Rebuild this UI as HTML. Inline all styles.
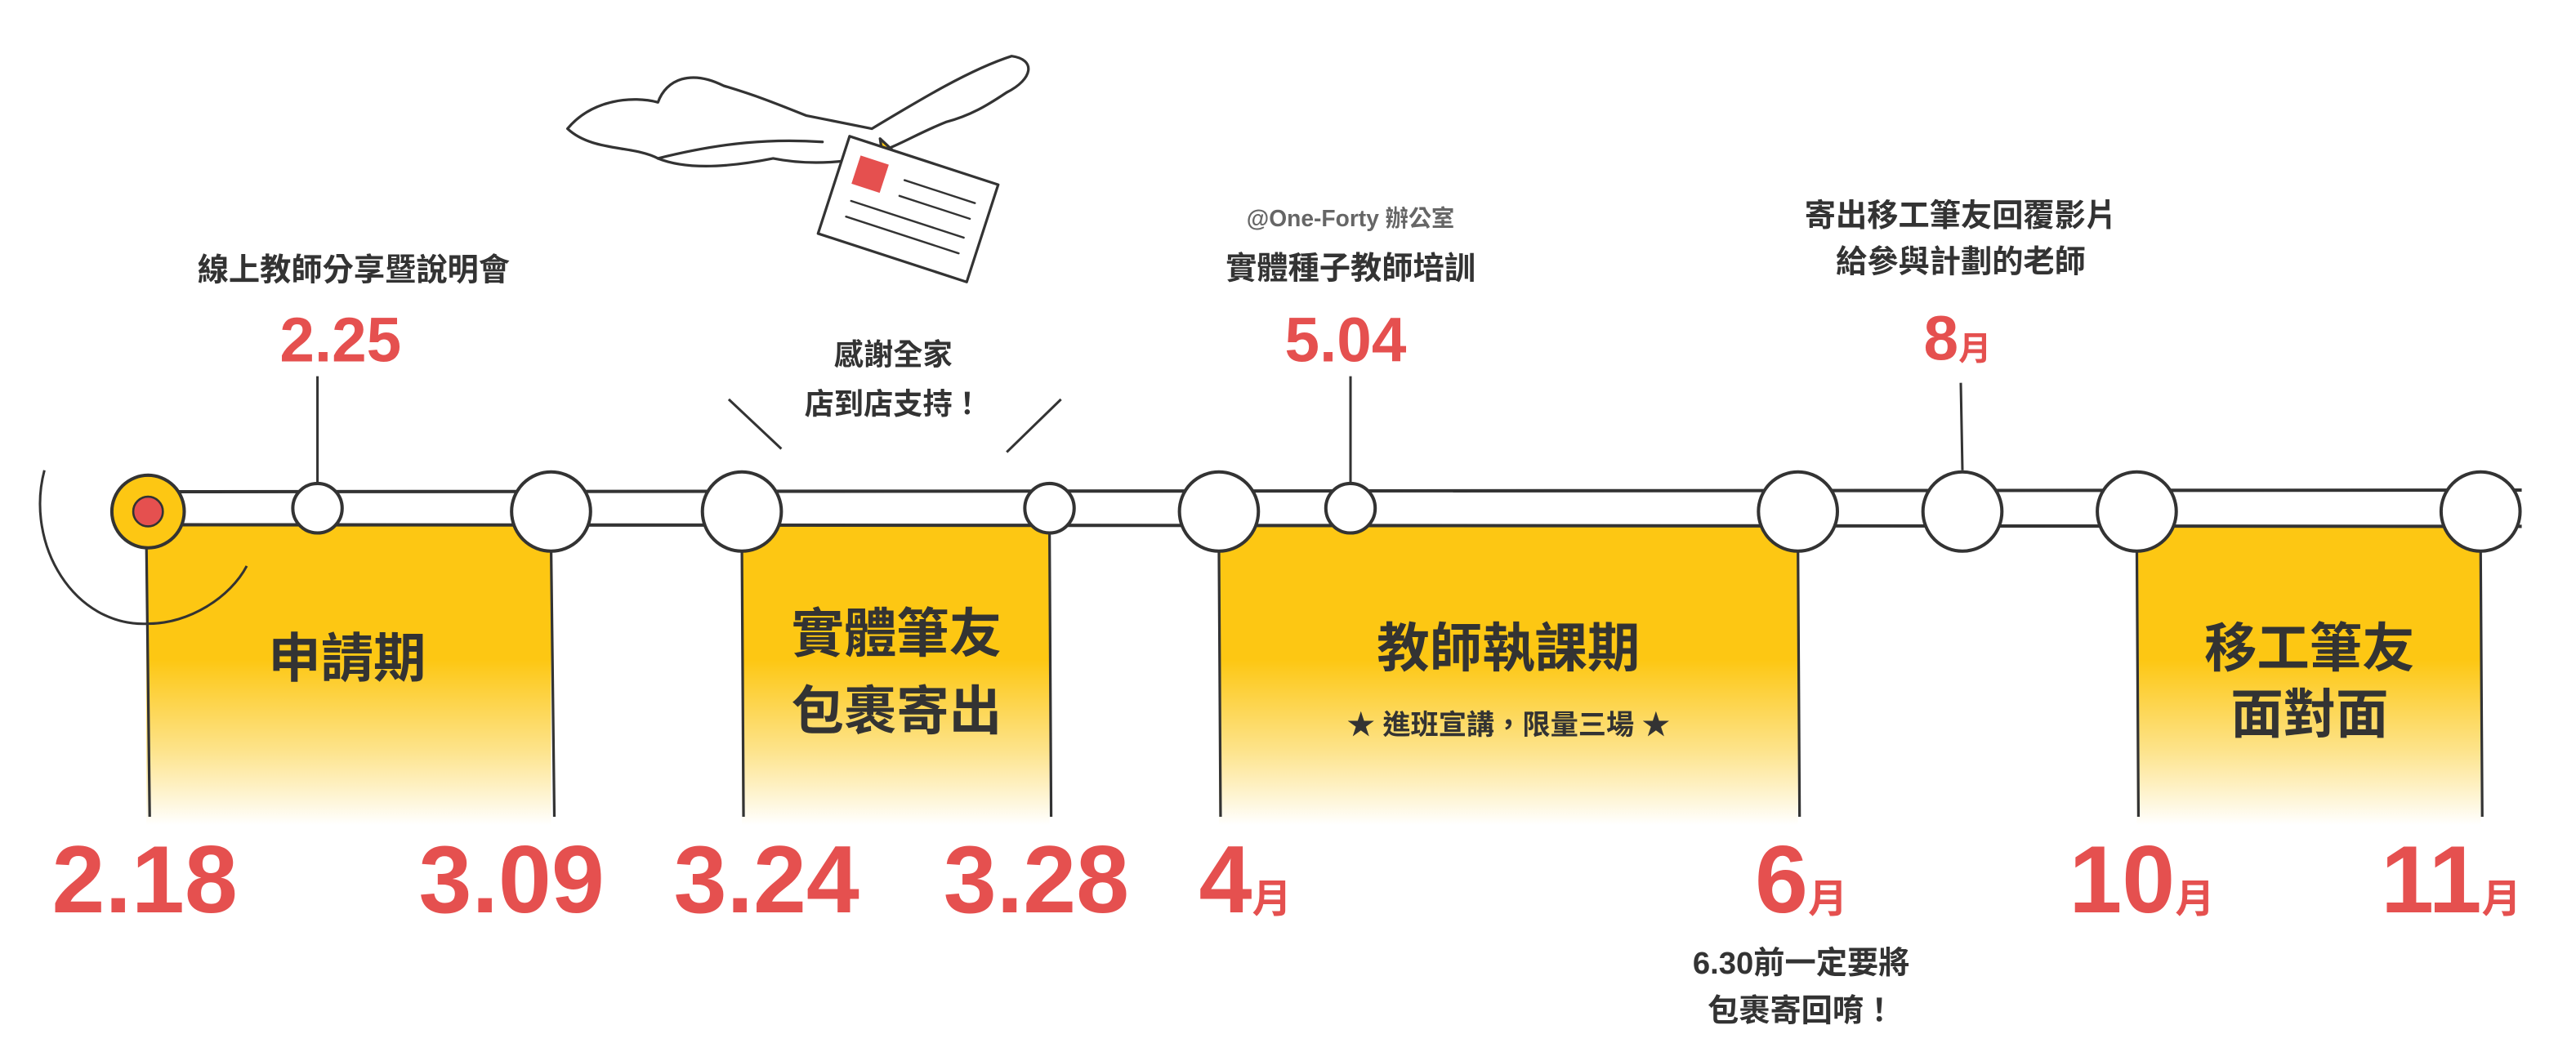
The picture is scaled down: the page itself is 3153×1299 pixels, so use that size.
<!DOCTYPE html>
<html><head><meta charset="utf-8"><style>
html,body{margin:0;padding:0;background:#fff;}
svg{display:block;}
text{font-family:"Liberation Sans Narrow","Liberation Sans","Noto Sans CJK TC",sans-serif;font-weight:bold;}
.cjk{font-family:"Liberation Sans","Noto Sans CJK TC",sans-serif;font-weight:bold;}
</style></head><body>
<svg width="3153" height="1299" viewBox="0 0 1566 643" preserveAspectRatio="none" xmlns="http://www.w3.org/2000/svg">
<defs>
<linearGradient id="yg" x1="0" y1="0" x2="0" y2="1">
<stop offset="0" stop-color="#fdc713"/>
<stop offset="0.45" stop-color="#fdc713"/>
<stop offset="0.75" stop-color="#fde38a"/>
<stop offset="1" stop-color="#ffffff"/>
</linearGradient>
</defs>
<rect x="0" y="0" width="1566" height="643" fill="#fff"/>

<!-- bird -->
<g fill="#fff" stroke="#333" stroke-width="1.6" stroke-linecap="round" stroke-linejoin="round">
<path d="M345,78 C360,60 385,58 400,62 C405,48 420,42 440,52 C460,58 470,62 490,70 L530,78 C560,60 590,42 615,34 C630,36 628,48 612,56 C600,64 590,70 575,74 C560,80 550,86 540,90 C520,100 490,100 470,96 C450,100 420,104 400,96 C385,88 360,92 345,78 Z"/>
<path d="M400,96 C440,86 470,84 500,86" fill="none"/>
<path d="M535,84 L550,98 L538,104 Z" fill="#fdc713"/>
<g transform="rotate(18 550 125)">
<rect x="505" y="95" width="95" height="62" fill="#fff"/>
<rect x="515" y="104" width="18" height="18" fill="#e5504f" stroke="none"/>
<path d="M545,110 L590,110 M545,120 L590,120 M518,132 L590,132 M518,142 L590,142" fill="none" stroke-width="1.2"/>
</g>
</g>

<!-- yellow panels -->
<g fill="url(#yg)">
<rect x="89" y="318" width="246" height="182"/>
<rect x="451" y="318" width="187" height="182"/>
<rect x="741" y="318" width="352" height="182"/>
<rect x="1299" y="318" width="209" height="182"/>
</g>
<g stroke="#333" stroke-width="1.6" fill="none">
<path d="M89,330 L91,495 M335,330 L337,495 M451,330 L452,495 M638,318 L639,495 M741,330 L742,495 M1093,330 L1094,495 M1299,330 L1300,495 M1508,330 L1509,495"/>
</g>

<!-- rail -->
<rect x="95" y="298" width="1438" height="20" fill="#fff"/>
<path d="M95,298 L1533,297 M95,318 L1533,319" stroke="#333" stroke-width="2" fill="none"/>

<!-- ticks and speech lines -->
<g stroke="#333" stroke-width="1.5" fill="none">
<path d="M193,228 L193,296 M821,228 L821,296 M1192,232 L1193,285"/>
<path d="M443,242 L475,272 M645,242 L612,274"/>
<path d="M27,285 C15,330 45,380 90,378 C115,378 140,362 150,343"/>
</g>

<!-- rings -->
<g stroke="#333" stroke-width="2" fill="#fff">
<circle cx="90" cy="310" r="22" fill="#fdc713"/>
<circle cx="90" cy="310" r="9" fill="#e5504f" stroke-width="1.3"/>
<circle cx="193" cy="308" r="15"/>
<circle cx="335" cy="310" r="24"/>
<circle cx="451" cy="310" r="24"/>
<circle cx="638" cy="308" r="15"/>
<circle cx="741" cy="310" r="24"/>
<circle cx="821" cy="308" r="15"/>
<circle cx="1093" cy="310" r="24"/>
<circle cx="1193" cy="310" r="24"/>
<circle cx="1299" cy="310" r="24"/>
<circle cx="1508" cy="310" r="24"/>
</g>

<!-- top labels -->
<g fill="#333" text-anchor="middle">
<text class="cjk" x="215" y="170" font-size="19">線上教師分享暨說明會</text>
<text class="cjk" x="543" y="221" font-size="18">感謝全家</text>
<text class="cjk" x="543" y="251" font-size="18">店到店支持！</text>
<text class="cjk" x="821" y="137" font-size="14" fill="#666" font-weight="normal">@One-Forty 辦公室</text>
<text class="cjk" x="821" y="169" font-size="19">實體種子教師培訓</text>
<text class="cjk" x="1192" y="137" font-size="19">寄出移工筆友回覆影片</text>
<text class="cjk" x="1192" y="165" font-size="19">給參與計劃的老師</text>
<text class="cjk" x="1095" y="590" font-size="19">6.30前一定要將</text>
<text class="cjk" x="1095" y="619" font-size="19">包裹寄回唷！</text>
</g>
<g fill="#e5504f" text-anchor="middle">
<text x="207" y="219" font-size="38">2.25</text>
<text x="818" y="219" font-size="38">5.04</text>
<text x="1190" y="218"><tspan font-size="38">8</tspan><tspan class="cjk" font-size="20">月</tspan></text>
</g>

<!-- panel text -->
<g fill="#333" text-anchor="middle">
<text class="cjk" x="211" y="410" font-size="32">申請期</text>
<text class="cjk" x="545" y="395" font-size="32">實體筆友</text>
<text class="cjk" x="545" y="442" font-size="32">包裹寄出</text>
<text class="cjk" x="917" y="404" font-size="32">教師執課期</text>
<text class="cjk" x="917" y="445" font-size="17">★ 進班宣講，限量三場 ★</text>
<text class="cjk" x="1404" y="404" font-size="32">移工筆友</text>
<text class="cjk" x="1404" y="444" font-size="32">面對面</text>
</g>

<!-- bottom dates -->
<g fill="#e5504f" text-anchor="middle" font-size="58">
<text x="88" y="553">2.18</text>
<text x="311" y="553">3.09</text>
<text x="466" y="553">3.24</text>
<text x="630" y="553">3.28</text>
<text x="757" y="553"><tspan>4</tspan><tspan class="cjk" font-size="24">月</tspan></text>
<text x="1095" y="553"><tspan>6</tspan><tspan class="cjk" font-size="24">月</tspan></text>
<text x="1302" y="553"><tspan>10</tspan><tspan class="cjk" font-size="24">月</tspan></text>
<text x="1490" y="553"><tspan>11</tspan><tspan class="cjk" font-size="24">月</tspan></text>
</g>
</svg>
</body></html>
